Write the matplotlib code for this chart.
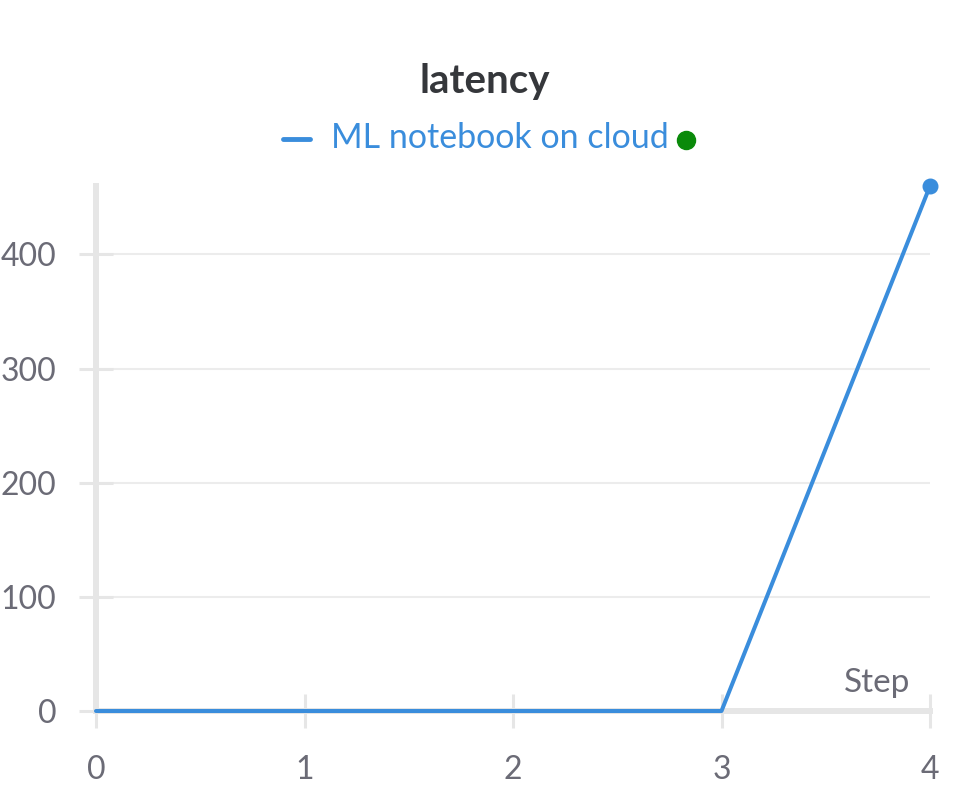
import numpy as np
import matplotlib
matplotlib.use("Agg")
import matplotlib.pyplot as plt
from matplotlib.lines import Line2D

# data
steps = [0, 1, 2, 3, 4]
latency = [0, 0, 0, 0, 460]
run_name = "ML notebook on cloud"
title = "latency"

line_color = "#3a8ddc"
axis_gray = "#e6e6e6"
text_gray = "#6b6b76"

plt.rcParams['font.family'] = ['Lato', 'DejaVu Sans']

fig = plt.figure(figsize=(9.71, 7.85), dpi=100)
ax = fig.add_axes([96 / 971, 1 - 711 / 785, (930 - 96) / 971, (711 - 186) / 785])

ax.plot(steps, latency, color=line_color, lw=2.9, solid_capstyle='round', zorder=3, clip_on=False)
ax.scatter(steps[-1:], latency[-1:], s=110, color=line_color, zorder=4, clip_on=False)

ax.set_xlim(0, 4)
ax.set_ylim(0, 460)
ax.set_xticks(steps)
ax.set_yticks([0, 100, 200, 300, 400])

for side in ['top', 'right']:
    ax.spines[side].set_visible(False)
ax.spines['left'].set_color(axis_gray)
ax.spines['left'].set_linewidth(4.3)
ax.spines['bottom'].set_color(axis_gray)
ax.spines['bottom'].set_linewidth(4.3)

ax.yaxis.grid(True, color="#ececec", lw=1.5)
ax.set_axisbelow(True)

ax.tick_params(axis='both', direction='inout', length=25, width=2.2, color=axis_gray,
               labelcolor=text_gray, labelsize=23)
ax.tick_params(axis='x', pad=19)
ax.tick_params(axis='y', pad=16)

ax.text(910 / 971, 1 - 683 / 785, "Step", transform=fig.transFigure, ha='right', va='center',
        fontsize=24, color=text_gray)

fig.text(485 / 971, 1 - 82 / 785, title, ha='center', va='center', fontsize=29,
         fontweight='bold', color="#35373b")

# legend drawn by hand, wandb style
fig.add_artist(Line2D([283 / 971, 310 / 971], [1 - 139 / 785, 1 - 139 / 785], color=line_color,
                      lw=3.5, solid_capstyle='round', transform=fig.transFigure))
fig.text(331 / 971, 1 - 138 / 785, run_name, ha='left', va='center', fontsize=24.5, color=line_color)
fig.add_artist(Line2D([686 / 971], [1 - 140 / 785], marker='o', markersize=13, color="#0a8a0a",
                      transform=fig.transFigure))

fig.savefig("out.png", dpi=100)
